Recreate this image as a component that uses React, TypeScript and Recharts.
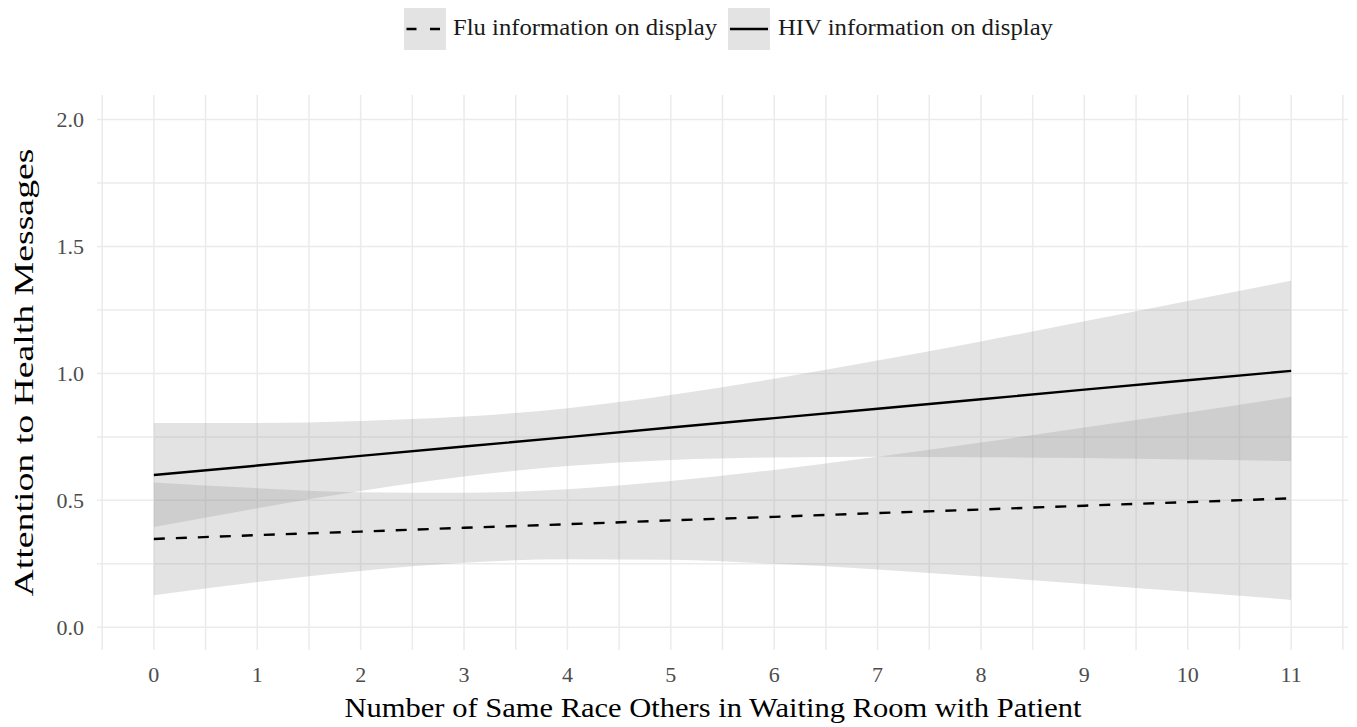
import React from 'react';
import { ComposedChart, Area, Line, XAxis, YAxis, CartesianGrid } from 'recharts';

const xValues = [0, 1, 2, 3, 4, 5, 6, 7, 8, 9, 10, 11];
const hivFit = [0.600, 0.637, 0.675, 0.712, 0.749, 0.787, 0.824, 0.861, 0.898, 0.936, 0.973, 1.010];
const hivUpper = [0.805, 0.805, 0.813, 0.830, 0.863, 0.915, 0.979, 1.051, 1.126, 1.205, 1.285, 1.365];
const hivLower = [0.395, 0.469, 0.537, 0.594, 0.635, 0.659, 0.669, 0.672, 0.670, 0.667, 0.661, 0.655];
const fluFit = [0.348, 0.363, 0.377, 0.392, 0.406, 0.421, 0.435, 0.450, 0.464, 0.479, 0.493, 0.508];
const fluUpper = [0.570, 0.548, 0.532, 0.530, 0.544, 0.576, 0.620, 0.672, 0.728, 0.787, 0.846, 0.908];
const fluLower = [0.126, 0.178, 0.222, 0.254, 0.268, 0.266, 0.250, 0.228, 0.200, 0.171, 0.140, 0.108];

const xTicks = [0, 1, 2, 3, 4, 5, 6, 7, 8, 9, 10, 11];
const yTicks = [0, 0.5, 1, 1.5, 2];
const xGridValues = [-0.5, 0, 0.5, 1, 1.5, 2, 2.5, 3, 3.5, 4, 4.5, 5, 5.5, 6, 6.5, 7, 7.5, 8, 8.5, 9, 9.5, 10, 10.5, 11, 11.5];
const yGridValues = [0, 0.25, 0.5, 0.75, 1, 1.25, 1.5, 1.75, 2];

const legendLabels = ['Flu information on display', 'HIV information on display'];
const xTitle = 'Number of Same Race Others in Waiting Room with Patient';
const yTitle = 'Attention to Health Messages';

const data = xValues.map((x, i) => ({
  x,
  hiv: hivFit[i],
  flu: fluFit[i],
  hivBand: [hivLower[i], hivUpper[i]],
  fluBand: [fluLower[i], fluUpper[i]],
}));

const FONT = '"Liberation Serif", "Times New Roman", serif';
const tickStyle = { fill: '#4d4d4d', fontSize: 22, fontFamily: FONT, style: { fontFamily: FONT } };

export default function App() {
  return (
    <div style={{ position: 'relative', width: 1342, height: 716, fontFamily: FONT, background: '#fff' }}>
      <div style={{ position: 'absolute', left: 0, top: 0 }}>
        <ComposedChart
          width={1342}
          height={716}
          data={data}
          margin={{ top: 87, right: 2, bottom: 0, left: 0 }}
          style={{ fontFamily: FONT }}
        >
          <CartesianGrid
            stroke="#ebebeb"
            strokeWidth={1.5}
            horizontalValues={yGridValues}
            verticalValues={xGridValues}
          />
          <XAxis
            dataKey="x"
            type="number"
            domain={[-0.55, 11.55]}
            ticks={xTicks}
            allowDataOverflow
            axisLine={false}
            tickLine={false}
            tickSize={0}
            tickMargin={16}
            height={74}
            tick={tickStyle}
            label={{
              content: () => (
                <text
                  x={705}
                  y={709}
                  textAnchor="middle"
                  fontSize={28}
                  fontFamily={FONT}
                  style={{ fontFamily: FONT }}
                  fill="#000"
                  textLength={737}
                  lengthAdjust="spacingAndGlyphs"
                >
                  {xTitle}
                </text>
              ),
            }}
          />
          <YAxis
            type="number"
            domain={[-0.0894, 2.0965]}
            ticks={yTicks}
            allowDataOverflow
            axisLine={false}
            tickLine={false}
            tickSize={0}
            tickMargin={13}
            width={89}
            tickFormatter={(v: number) => v.toFixed(1)}
            tick={tickStyle}
            label={{
              content: () => (
                <text
                  x={25}
                  y={364.5}
                  transform="rotate(-90, 25, 364.5)"
                  textAnchor="middle"
                  fontSize={28}
                  fontFamily={FONT}
                  style={{ fontFamily: FONT }}
                  fill="#000"
                  textLength={448}
                  lengthAdjust="spacingAndGlyphs"
                >
                  {yTitle}
                </text>
              ),
            }}
          />
          <Area
            type="monotone"
            dataKey="fluBand"
            stroke="none"
            fill="#999999"
            fillOpacity={0.27}
            isAnimationActive={false}
            activeDot={false}
          />
          <Area
            type="monotone"
            dataKey="hivBand"
            stroke="none"
            fill="#999999"
            fillOpacity={0.27}
            isAnimationActive={false}
            activeDot={false}
          />
          <Line
            type="linear"
            dataKey="flu"
            stroke="#000"
            strokeWidth={2.4}
            strokeDasharray="11 11"
            dot={false}
            activeDot={false}
            isAnimationActive={false}
          />
          <Line
            type="linear"
            dataKey="hiv"
            stroke="#000"
            strokeWidth={2.4}
            dot={false}
            activeDot={false}
            isAnimationActive={false}
          />
        </ComposedChart>
      </div>

      {/* Legend */}
      <svg
        width={1342}
        height={44}
        style={{ position: 'absolute', left: 0, top: 0, fontFamily: FONT }}
      >
        <rect x={396} y={0} width={42} height={42} fill="#e3e3e3" />
        <line x1={398.5} y1={21} x2={436} y2={21} stroke="#000" strokeWidth={2.5} strokeDasharray="10 13.5" />
        <text x={445} y={27} fontSize={23} fill="#1a1a1a" textLength={264} lengthAdjust="spacingAndGlyphs" style={{ fontFamily: FONT }}>
          {legendLabels[0]}
        </text>
        <rect x={720} y={0} width={42} height={42} fill="#e3e3e3" />
        <line x1={722} y1={21} x2={760} y2={21} stroke="#000" strokeWidth={2.5} />
        <text x={770} y={27} fontSize={23} fill="#1a1a1a" textLength={275} lengthAdjust="spacingAndGlyphs" style={{ fontFamily: FONT }}>
          {legendLabels[1]}
        </text>
      </svg>
    </div>
  );
}
